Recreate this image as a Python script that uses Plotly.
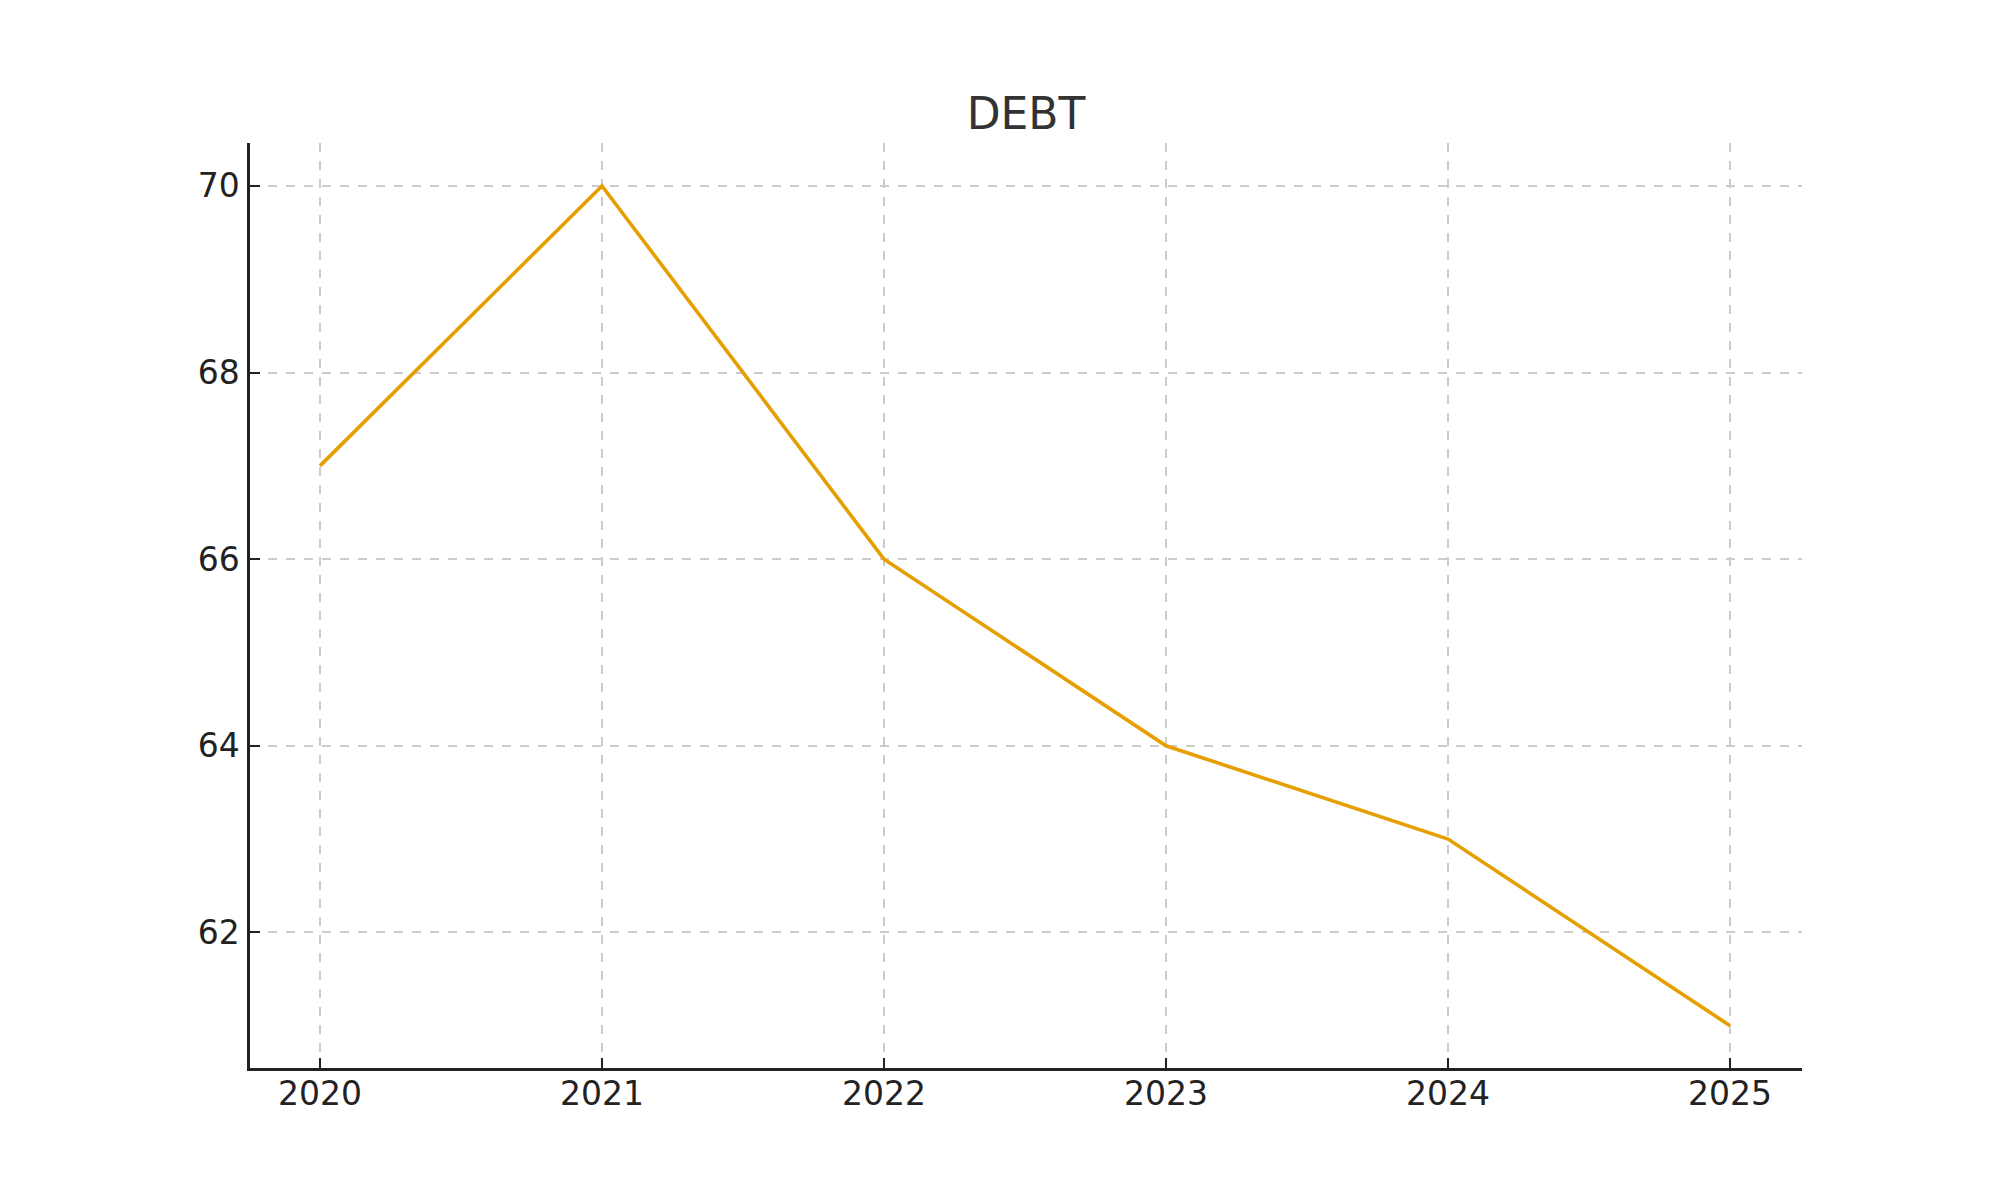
import plotly.graph_objects as go

years = [2020, 2021, 2022, 2023, 2024, 2025]
debt = [67, 70, 66, 64, 63, 61]
y_ticks = [62, 64, 66, 68, 70]

fig = go.Figure()
fig.add_trace(go.Scatter(x=years, y=debt, mode="lines",
                         line=dict(color="#E69F00", width=3.6), showlegend=False))

axis_common = dict(
    showline=True, linecolor="#222222", linewidth=2.5,
    ticks="inside", ticklen=10, tickwidth=2, tickcolor="#222222",
    showgrid=True, gridcolor="#cccccc", gridwidth=1.5, griddash="dash",
    zeroline=False, mirror=False,
    tickfont=dict(family="DejaVu Sans", size=33, color="#222222"),
)

fig.update_layout(
    width=2000, height=1200,
    paper_bgcolor="white", plot_bgcolor="white",
    margin=dict(l=250, r=198, t=143, b=132),
    title=dict(text="DEBT", x=0.513, xanchor="center", y=1 - 114 / 1200, yanchor="middle",
               font=dict(family="DejaVu Sans", size=44, color="#333333")),
    xaxis=dict(range=[2019.752, 2025.255], tickvals=years, ticktext=[str(y) for y in years],
               ticklabelstandoff=-5, **axis_common),
    yaxis=dict(range=[60.547, 70.46], tickvals=y_ticks, ticklabelstandoff=1, **axis_common),
)

fig.write_html("out.html", config={"displayModeBar": False})

with open("out.html", "r", encoding="utf-8") as f:
    html = f.read()
html = html.replace("<body>", '<body style="margin:0;padding:0;">', 1)
with open("out.html", "w", encoding="utf-8") as f:
    f.write(html)
